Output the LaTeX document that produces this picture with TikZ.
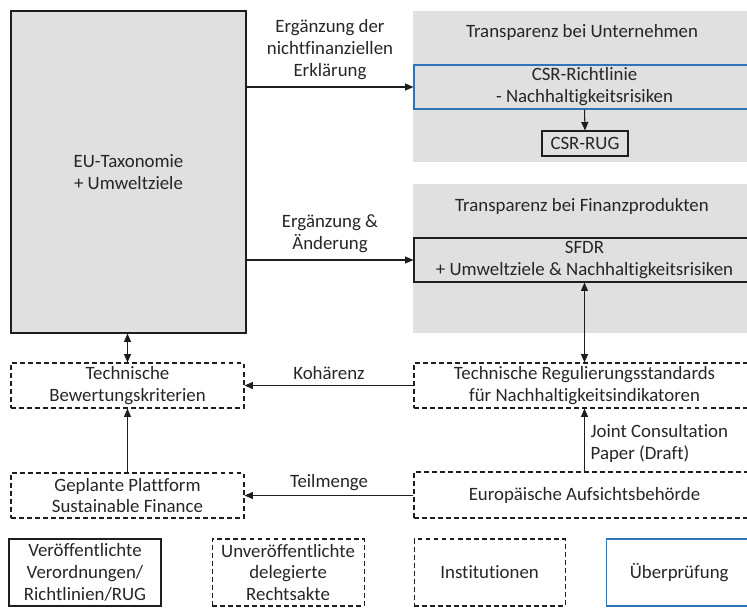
\documentclass[tikz,border=0pt]{standalone}
\usepackage{fontspec}
\setmainfont{Carlito}[Ligatures=NoCommon]
\usepackage{tikz}
\usetikzlibrary{positioning}
\usetikzlibrary{arrows.meta}

\definecolor{areagrey}{RGB}{224,224,224}
\definecolor{reviewblue}{RGB}{46,117,182}
\definecolor{linegrey}{RGB}{30,30,30}

% one pixel of the layout grid
\newcommand{\px}{0.025cm}

\tikzset{
	every node/.style = {font=\fontsize{13.4}{15.6}\selectfont, align=center, inner sep=0pt, text=black!85},
	greyarea/.style   = {fill=areagrey, draw=none},
	pubbox/.style     = {draw=linegrey, line width=0.75pt},
	draftbox/.style   = {draw=linegrey, line width=0.75pt, dash pattern=on 3.5pt off 2.2pt},
	reviewbox/.style  = {draw=reviewblue, line width=0.75pt},
	arr/.style        = {draw=linegrey, line width=0.75pt, -{Triangle[length=6pt,width=5pt]}},
	darr/.style       = {draw=linegrey, line width=0.75pt, {Triangle[length=6pt,width=5pt]}-{Triangle[length=6pt,width=5pt]}}
}

\begin{document}
\begin{tikzpicture}[x=\px, y=-\px]

	% ------------------------------------------------
	% Ensure the dimensions of graphic are appropriate
	\useasboundingbox (0,0) rectangle (747,608);

	% ------------------------------------------------
	% Grey background areas
	\node[greyarea, minimum width=338*\px, minimum height=151*\px] (AreaU) at (582,86.5) {};
	\node[greyarea, minimum width=338*\px, minimum height=149*\px] (AreaF) at (582,258.5) {};

	\node (TitleU) at (582,32)  {Transparenz bei Unternehmen};
	\node (TitleF) at (582,206) {Transparenz bei Finanzprodukten};

	% ------------------------------------------------
	% Legal acts
	\node[pubbox, fill=areagrey, minimum width=235*\px, minimum height=322*\px] (Tax) at (128.5,172)
		{EU-Taxonomie\\+ Umweltziele};
	\node[reviewbox, fill=areagrey, minimum width=341*\px, minimum height=44*\px] (CSR) at (584.5,87)
		{CSR-Richtlinie\\- Nachhaltigkeitsrisiken};
	\node[pubbox, minimum width=86*\px, minimum height=25*\px] (RUG) at (585,143.5) {CSR-RUG};
	\node[pubbox, fill=areagrey, minimum width=341*\px, minimum height=44*\px] (SFDR) at (584.5,260)
		{SFDR\\+ Umweltziele \& Nachhaltigkeitsrisiken};

	% Delegated acts
	\node[draftbox, minimum width=233*\px, minimum height=45*\px] (TBK) at (127.5,385.5)
		{Technische\\Bewertungskriterien};
	\node[draftbox, minimum width=341*\px, minimum height=45*\px] (TRS) at (584.5,385.5)
		{Technische Regulierungsstandards\\für Nachhaltigkeitsindikatoren};

	% Institutions
	\node[draftbox, minimum width=233*\px, minimum height=45*\px] (Plattform) at (127.5,495.5)
		{Geplante Plattform\\Sustainable Finance};
	\node[draftbox, minimum width=341*\px, minimum height=46*\px] (ESA) at (584.5,495)
		{Europäische Aufsichtsbehörde};

	% ------------------------------------------------
	% Connectors
	\draw[arr] (Tax.east |- CSR.west) -- node[above=5pt] {Ergänzung der\\nichtfinanziellen\\Erklärung} (CSR.west);
	\draw[arr] (Tax.east |- SFDR.west) -- node[above=5pt] {Ergänzung \&\\Änderung} (SFDR.west);
	\draw[arr] (CSR.south) -- (RUG.north);
	\draw[darr] (SFDR.south) -- (TRS.north);
	\draw[darr] (Tax.south -| TBK.north) -- (TBK.north);
	\draw[arr] (TRS.west) -- node[above=4pt] {Kohärenz} (TBK.east);
	\draw[arr] (ESA.west |- Plattform.east) -- node[above=3pt] {Teilmenge} (Plattform.east);
	\draw[arr] (Plattform.north) -- (TBK.south);
	\draw[arr] (ESA.north) -- node[pos=0.45, right=4pt, align=left] {Joint Consultation\\Paper (Draft)} (TRS.south);

	% ------------------------------------------------
	% Legend
	\node[pubbox, minimum width=152*\px, minimum height=67*\px] (LegPub) at (85,572.5)
		{Veröffentlichte\\Verordnungen/\\Richtlinien/RUG};
	\node[draftbox, minimum width=152*\px, minimum height=67*\px, right=50*\px of LegPub] (LegDraft)
		{Unveröffentlichte\\delegierte\\Rechtsakte};
	\node[draftbox, minimum width=151*\px, minimum height=67*\px, right=49*\px of LegDraft] (LegInst)
		{Institutionen};
	\node[reviewbox, minimum width=146*\px, minimum height=67*\px, right=40*\px of LegInst] (LegReview)
		{Überprüfung};

\end{tikzpicture}
\end{document}
